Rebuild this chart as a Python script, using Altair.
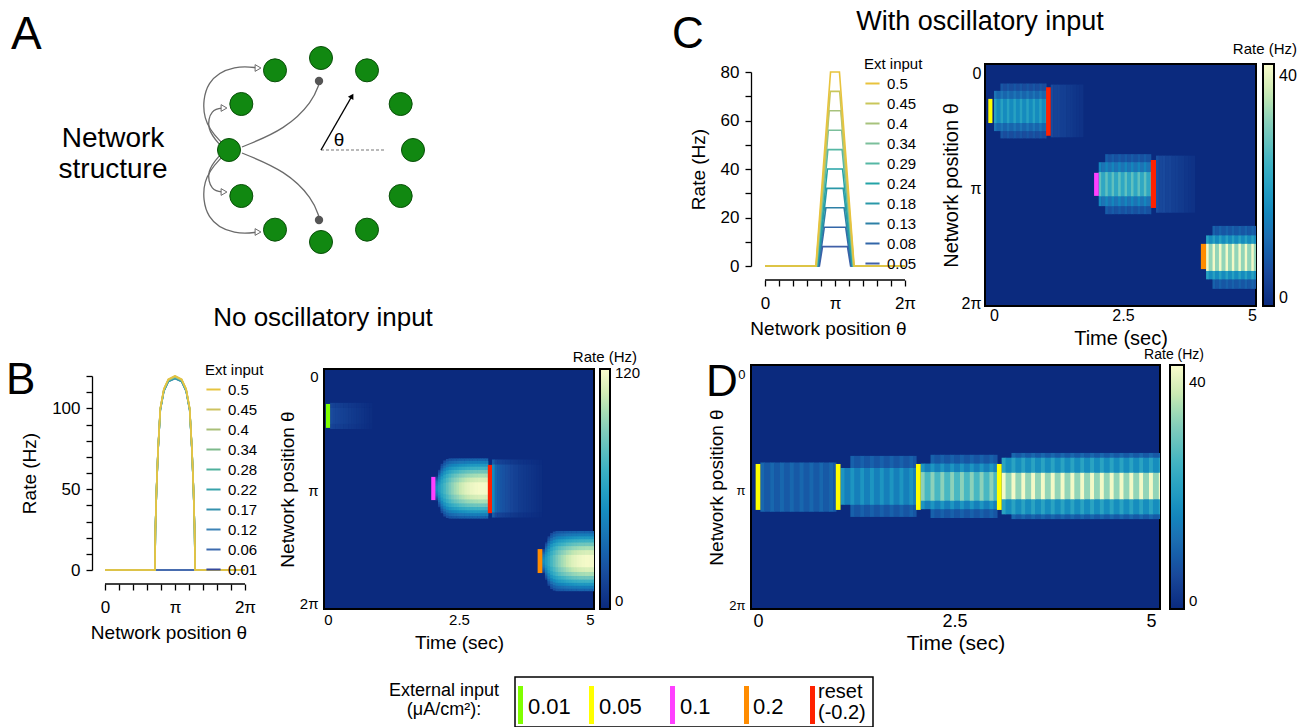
import math
import pandas as pd
import altair as alt

PI = math.pi
FONT = "Liberation Sans"
NAVY = "#0b2a7e"

# ---------------- colour map of the heat maps ----------------
CMAP_FRACS = [0.0, 0.15, 0.30, 0.45, 0.60, 0.75, 0.88, 1.0]
CMAP_COLORS = ["#0b2a7e", "#1a4b9d", "#1e72b4", "#1f97c1", "#42b4c3", "#84cdbb", "#cae9b3", "#fbfdcd"]

# ---------------- panel B, rate profiles ----------------
B_INPUTS = ["0.5", "0.45", "0.4", "0.34", "0.28", "0.22", "0.17", "0.12", "0.06", "0.01"]
B_COLORS = ["#e6c440", "#cdc260", "#a9bf78", "#7db98b", "#4fb09c", "#38a2aa", "#3591ad", "#3d83b6", "#3c6aae", "#35489b"]
B_PEAKS = [120, 120, 119.5, 119.5, 119, 119, 118.5, 118.5, 0, 0]
B_BUMP_OFFSETS = [0.90, 0.88, 0.83, 0.76, 0.66, 0.50, 0.30, 0.0]
B_BUMP_RATES = [0, 25, 50, 75, 100, 112, 118, 120]

# ---------------- panel C, rate profiles ----------------
C_INPUTS = ["0.5", "0.45", "0.4", "0.34", "0.29", "0.24", "0.18", "0.13", "0.08", "0.05"]
C_COLORS = ["#e8c33d", "#c9c65a", "#a7c27c", "#7bbf9b", "#55b7a4", "#23a3a6", "#2a98a8", "#2d80a6", "#3266a8", "#4060a8"]
C_PLATEAU = [80, 72, 64, 56, 48, 40, 32, 24, 16, 8]
C_SHOULDER = [0.20, 0.21, 0.26, 0.30, 0.32, 0.34, 0.37, 0.41, 0.48, 0.56]
C_FOOT = [0.86, 0.85, 0.84, 0.83, 0.82, 0.80, 0.78, 0.76, 0.73, 0.70]

# ---------------- panel B heat map (smooth bumps) ----------------
B_PROFILES = {
    "bump": ([0.83, 0.76, 0.68, 0.60, 0.51, 0.41, 0.30, 0.17], [0.25, 0.35, 0.47, 0.60, 0.72, 0.84, 0.93, 1.0]),
    "fade": ([0.80, 0.66], [0.55, 1.0]),
    "flat": ([0.36, 0.22], [0.80, 1.0]),
}
B_RAMP_PEAKS = [50, 58, 66, 74, 81, 88, 94, 99, 103, 107, 110, 113, 115, 117, 118, 119, 120, 120, 120, 120]
B_RAMP_WIDTHS = [0.40, 0.62, 0.82, 0.93, 0.98, 1, 1, 1, 1, 1, 1, 1, 1, 1, 1, 1, 1, 1, 1, 1]
B_FADE_PEAKS = [48, 30, 26, 23, 21, 19, 17, 15, 13, 12, 10, 9, 8, 7, 6, 5, 4, 3, 2]
B_WEAK_PEAKS = [18, 16, 15, 14, 13, 12, 11, 10, 9, 8, 7, 6, 5, 4, 3, 2]
# start time, column step, centre, peaks, width factors, profile
B_BLOBS = [
    (0.04, 0.05, 1.10, B_WEAK_PEAKS, [1] * len(B_WEAK_PEAKS), "flat"),
    (2.05, 0.05, 3.10, B_RAMP_PEAKS, B_RAMP_WIDTHS, "bump"),
    (3.13, 0.05, 3.10, B_FADE_PEAKS, [1] * len(B_FADE_PEAKS), "fade"),
    (4.09, 0.05, 5.10, B_RAMP_PEAKS, B_RAMP_WIDTHS, "bump"),
]
B_MARK_T0 = [-0.04, 1.97, 3.05, 4.00]
B_MARK_T1 = [0.04, 2.05, 3.13, 4.09]
B_MARK_TH0 = [0.77, 2.78, 2.45, 4.77]
B_MARK_TH1 = [1.43, 3.42, 3.78, 5.43]
B_MARK_COL = ["#80ff00", "#ff40ff", "#ff2200", "#ff8c00"]

# ---------------- panels C and D heat maps (oscillatory) ----------------
OSC_CYCLE = 0.125
OSC_FRACS = [0.0, 0.4]
OSC_GAINS = [1.0, 0.8]
# start, end, centre, band half widths (outer->inner), band rates, outer bands missing in 1st cycle
C_SEGMENTS = [
    (0.00, 1.01, 1.01, [0.75, 0.55, 0.33], [8, 13, 21], 1),
    (2.03, 3.04, 3.01, [0.82, 0.60, 0.33], [9, 16, 28], 1),
    (4.11, 5.10, 5.01, [0.86, 0.60, 0.37], [10, 21, 41], 1),
]
C_FADES = [
    (1.10, 1.01, 0.72, [6, 5, 4, 3, 2]),
    (3.14, 3.01, 0.78, [7, 6, 5, 4, 3, 2]),
]
C_MARK_T0 = [-0.11, 1.01, 1.94, 3.04, 4.01]
C_MARK_T1 = [-0.03, 1.10, 2.03, 3.14, 4.11]
C_MARK_TH0 = [0.68, 0.36, 2.70, 2.35, 4.64]
C_MARK_TH1 = [1.34, 1.69, 3.33, 3.66, 5.33]
C_MARK_COL = ["#ffff00", "#ff2200", "#ff40ff", "#ff2200", "#ff8c00"]

D_SEGMENTS = [
    (0.03, 0.99, 3.05, [0.67], [11], 0),
    (1.05, 2.01, 3.03, [0.83, 0.50], [10, 19], 1),
    (2.07, 3.04, 3.03, [0.86, 0.62, 0.39], [10, 19, 33], 1),
    (3.10, 5.12, 3.02, [0.90, 0.77, 0.36], [11, 22, 42], 1),
]
D_MARK_T0 = [-0.03, 0.99, 2.01, 3.04]
D_MARK_T1 = [0.03, 1.05, 2.07, 3.10]
D_MARK_TH0 = [2.42, 2.42, 2.42, 2.42]
D_MARK_TH1 = [3.67, 3.67, 3.67, 3.67]
D_MARK_COL = ["#ffff00", "#ffff00", "#ffff00", "#ffff00"]

# ---------------- panel A diagram ----------------
RING_CX, RING_CY, RING_R = 320, 149, 92
NODE_ANGLES = [0, 30, 60, 90, 120, 150, 180, 210, 240, 270, 300, 330]
DOT_X = [318, 318]
DOT_Y = [80, 219]
CURVES = {
    "p1": [(222, 143), (200, 120), (204, 78), (235, 64), (257, 67)],
    "p2": [(220, 145), (205, 128), (210, 108), (223, 107)],
    "p3": [(220, 153), (205, 170), (210, 190), (223, 191)],
    "p4": [(222, 155), (200, 178), (204, 220), (235, 234), (257, 231)],
    "p5": [(241, 146), (285, 128), (312, 100), (318, 83)],
    "p6": [(241, 152), (285, 170), (312, 198), (318, 216)],
}
HEAD_X = [257, 223, 223, 257]
HEAD_Y = [67, 107, 191, 231]
THETA_ARROW = [(320, 149), (351, 95)]
THETA_DASH = [(320, 149), (385, 149)]

# ---------------- figure texts ----------------
TXT_L = ["A", "B", "C", "D", "0.01", "0.05", "0.1", "0.2", "reset", "(-0.2)"]
TXT_L_X = [10, 5, 671, 705, 527, 598, 679, 752, 817, 817]
TXT_L_Y = [48, 393, 47, 395, 713, 713, 713, 713, 697, 718]
TXT_L_FS = [46, 44, 44, 44, 22, 22, 22, 22, 20, 20]
TXT_C = ["Network", "structure", "No oscillatory input", "With oscillatory input", "θ", "External input", "(μA/cm²):"]
TXT_C_X = [112, 112, 322, 979, 338, 443, 443]
TXT_C_Y = [146, 177, 325, 29, 145, 695, 714]
TXT_C_FS = [28, 28, 26, 27, 19, 18, 18]
TXT_R = ["Rate (Hz)", "Rate (Hz)", "Rate (Hz)"]
TXT_R_X = [636, 1296, 1203]
TXT_R_Y = [361, 53, 358]
TXT_R_FS = [15, 15, 14]

# bottom legend
LEG_BOX = (514, 872, 676, 726)
LEG_BAR_X = [517, 588, 669, 743, 809]
LEG_BAR_COL = ["#80ff00", "#ffff00", "#ff40ff", "#ff8c00", "#ff2200"]
LEG_BAR_Y = (685, 723)

THETA_EXPR = ("abs(datum.value) < 0.01 ? '0' : abs(datum.value - PI) < 0.01 ? 'π' : "
              "abs(datum.value - 2*PI) < 0.01 ? '2π' : ''")
TIME_EXPR = "datum.value == 0 ? '0' : datum.value == 5 ? '5' : '2.5'"


# ================= builders =================
def b_line_df():
    rows = []
    for k in range(len(B_INPUTS) - 1, -1, -1):
        peak = B_PEAKS[k]
        pts = [(0.0, 0.0)]
        for o, r in zip(B_BUMP_OFFSETS, B_BUMP_RATES):
            pts.append((PI - o, r * peak / 120.0))
        for o, r in zip(reversed(B_BUMP_OFFSETS[:-1]), reversed(B_BUMP_RATES[:-1])):
            pts.append((PI + o, r * peak / 120.0))
        pts.append((2 * PI, 0.0))
        for th, r in pts:
            rows.append({"inp": B_INPUTS[k], "theta": th, "rate": r})
    return pd.DataFrame(rows)


def c_line_df():
    rows = []
    for k in range(len(C_INPUTS) - 1, -1, -1):
        L, s, f = C_PLATEAU[k], C_SHOULDER[k], C_FOOT[k]
        pts = [(0.0, 0), (PI - f, 0), (PI - s, L), (PI + s, L), (PI + f, 0), (2 * PI, 0)]
        for th, r in pts:
            rows.append({"inp": C_INPUTS[k], "theta": th, "rate": r})
    return pd.DataFrame(rows)


EPS = 0.008


def smooth_bands(blobs):
    rows = []
    for ts, dt, c, peaks, widths, prof in blobs:
        halves, rels = B_PROFILES[prof]
        for k, (p, w) in enumerate(zip(peaks, widths)):
            a = ts + k * dt
            for lvl, (h, r) in enumerate(zip(halves, rels)):
                rows.append({"t0": a, "t1": a + dt + EPS, "th0": c - h * w, "th1": c + h * w,
                             "rate": p * r, "lvl": lvl})
    return pd.DataFrame(rows).sort_values(["lvl", "t0"]).reset_index(drop=True)


def osc_bands(segments, fades):
    rows = []

    def cycle_cols(cs, te):
        out = []
        for j, (f, g) in enumerate(zip(OSC_FRACS, OSC_GAINS)):
            a = cs + f * OSC_CYCLE
            b = cs + (OSC_FRACS[j + 1] if j + 1 < len(OSC_FRACS) else 1.0) * OSC_CYCLE
            b = min(b, te)
            if a < te:
                out.append((a, b, g))
        return out

    for ts, te, c, halves, rates, skip in segments:
        n = int(math.ceil((te - ts) / OSC_CYCLE - 1e-9))
        for k in range(n):
            for a, b, g in cycle_cols(ts + k * OSC_CYCLE, te):
                for lvl, (h, r) in enumerate(zip(halves, rates)):
                    if k == 0 and lvl < skip:
                        continue
                    rows.append({"t0": a, "t1": b + EPS, "th0": c - h, "th1": c + h,
                                 "rate": r * g, "lvl": lvl})
    for ts, c, h, rates in fades:
        for k, r in enumerate(rates):
            cs = ts + k * OSC_CYCLE
            for a, b, g in cycle_cols(cs, cs + OSC_CYCLE):
                rows.append({"t0": a, "t1": b + EPS, "th0": c - h, "th1": c + h,
                             "rate": r * g, "lvl": 0})
    return pd.DataFrame(rows).sort_values(["lvl", "t0"]).reset_index(drop=True)


def marks_df(t0, t1, th0, th1, col):
    return pd.DataFrame({"t0": t0, "t1": t1, "th0": th0, "th1": th1, "col": col})


def heat_chart(bands, marks, W, H, xdom, ydom, cmax, cvals, st):
    xs = alt.Scale(domain=xdom, nice=False, zero=False)
    ys = alt.Scale(domain=ydom, nice=False, zero=False, reverse=True)
    xax = alt.Axis(values=[0, 2.5, 5], labelExpr=TIME_EXPR, ticks=False, domain=False, grid=False,
                   labelFontSize=st["xl"], labelPadding=st["xlp"], labelFlush=False, labelOverlap=False,
                   title="Time (sec)", titleFontSize=st["xt"], titlePadding=st["xtp"])
    yax = alt.Axis(values=[0, PI, 2 * PI], labelExpr=THETA_EXPR, ticks=False, domain=False, grid=False,
                   labelFontSize=st["yl"], labelPadding=st["ylp"], labelFlush=False, labelOverlap=False,
                   title="Network position θ", titleFontSize=st["yt"], titlePadding=st["ytp"])
    leg = alt.Legend(orient="none", legendX=W + st["lx"], legendY=0, direction="vertical", title=None,
                     gradientLength=H, gradientThickness=st["gt"], gradientStrokeColor="black",
                     gradientStrokeWidth=2, values=cvals, labelFontSize=st["cl"], labelOverlap=False,
                     labelOffset=5, padding=0)
    cscale = alt.Scale(domain=[f * cmax for f in CMAP_FRACS], range=CMAP_COLORS, clamp=True)
    band_layer = alt.Chart(bands).mark_rect(clip=True).encode(
        x=alt.X("t0:Q", scale=xs, axis=xax), x2="t1:Q",
        y=alt.Y("th0:Q", scale=ys, axis=yax), y2="th1:Q",
        color=alt.Color("rate:Q", scale=cscale, legend=leg),
    )
    mark_layer = alt.Chart(marks).mark_rect(clip=True).encode(
        x=alt.X("t0:Q", scale=xs, axis=xax), x2="t1:Q",
        y=alt.Y("th0:Q", scale=ys, axis=yax), y2="th1:Q",
        fill=alt.Fill("col:N", scale=None),
    )
    return alt.layer(band_layer, mark_layer).properties(
        width=W, height=H, view=alt.ViewBackground(fill=NAVY, stroke="black", strokeWidth=2))


def line_chart(df, inputs, colors, W, H, xdom, ymax, ystep, yevery, lx, ly):
    xs = alt.Scale(domain=xdom, nice=False, zero=False)
    ys = alt.Scale(domain=[0, ymax], nice=False, zero=False)
    xax = alt.Axis(values=[k * PI / 5 for k in range(11)], labelExpr=THETA_EXPR, domain=False, offset=14,
                   tickSize=6, tickWidth=1.3, labelFontSize=17, labelPadding=9, labelFlush=False,
                   labelOverlap=False, title="Network position θ", titleFontSize=19, titlePadding=8, grid=False)
    yax = alt.Axis(values=list(range(0, ymax + 1, ystep)),
                   labelExpr=f"datum.value % {yevery} == 0 ? datum.label : ''",
                   domainWidth=1.3, tickSize=6, tickWidth=1.3, labelFontSize=17, labelPadding=6,
                   labelOverlap=False, labelFlush=False, title="Rate (Hz)", titleFontSize=19,
                   titlePadding=12, grid=False)
    leg = alt.Legend(orient="none", legendX=lx, legendY=ly, direction="vertical", title="Ext input",
                     titleFontSize=15, titleFontWeight="normal", titlePadding=3, labelFontSize=15,
                     symbolType="stroke", symbolStrokeWidth=2, symbolSize=200, rowPadding=3,
                     labelOffset=6, padding=0)
    lines = alt.Chart(df).mark_line(strokeWidth=1.6).encode(
        x=alt.X("theta:Q", scale=xs, axis=xax),
        y=alt.Y("rate:Q", scale=ys, axis=yax),
        color=alt.Color("inp:N", scale=alt.Scale(domain=inputs, range=colors), legend=leg),
    )
    rule = alt.Chart(pd.DataFrame({"theta": [0.0], "theta2": [2 * PI]})).mark_rule(
        color="black", strokeWidth=1.3).encode(
        x=alt.X("theta:Q", scale=xs, axis=xax), x2="theta2:Q", y=alt.value(H + 14))
    return alt.layer(lines, rule).properties(width=W, height=H)


# ================= canvas with diagram, letters, titles, bottom legend =================
CANVAS_W, CANVAS_H = 271, 313
cx = alt.Scale(domain=[0, CANVAS_W], range=[0, CANVAS_W], nice=False, zero=False)
cy = alt.Scale(domain=[0, CANVAS_H], range=[0, CANVAS_H], nice=False, zero=False)


def cpos(xf="x", yf="y"):
    return dict(x=alt.X(f"{xf}:Q", scale=cx, axis=None), y=alt.Y(f"{yf}:Q", scale=cy, axis=None))


nodes = pd.DataFrame({
    "x": [RING_CX + RING_R * math.cos(math.radians(a)) for a in NODE_ANGLES],
    "y": [RING_CY - RING_R * math.sin(math.radians(a)) for a in NODE_ANGLES],
})
curve_rows = []
for pid, pts in CURVES.items():
    for i, (x, y) in enumerate(pts):
        curve_rows.append({"pid": pid, "seq": i, "x": x, "y": y})
curves = pd.DataFrame(curve_rows)

layers = []
layers.append(alt.Chart(curves).mark_line(interpolate="basis", color="#6a6a6a", strokeWidth=1.3).encode(
    detail="pid:N", order="seq:Q", **cpos()))
layers.append(alt.Chart(pd.DataFrame({"x": HEAD_X, "y": HEAD_Y})).mark_point(
    shape="triangle-right", filled=True, fill="white", stroke="#6a6a6a", strokeWidth=1, size=45, opacity=1
).encode(**cpos()))
layers.append(alt.Chart(nodes).mark_circle(size=530, color="#118811", stroke="#0a4f0a", strokeWidth=1,
                                           opacity=1).encode(**cpos()))
layers.append(alt.Chart(pd.DataFrame({"x": DOT_X, "y": DOT_Y})).mark_circle(
    size=70, color="#555555", opacity=1).encode(**cpos()))
layers.append(alt.Chart(pd.DataFrame({"x": [p[0] for p in THETA_DASH], "y": [p[1] for p in THETA_DASH]}))
              .mark_line(color="#777777", strokeWidth=1.2, strokeDash=[3, 2]).encode(**cpos()))
layers.append(alt.Chart(pd.DataFrame({"x": [p[0] for p in THETA_ARROW], "y": [p[1] for p in THETA_ARROW],
                                      "s": [0, 1]}))
              .mark_line(color="black", strokeWidth=1.4).encode(order="s:Q", **cpos()))
layers.append(alt.Chart(pd.DataFrame({"x": [THETA_ARROW[1][0]], "y": [THETA_ARROW[1][1]]})).mark_point(
    shape="triangle-up", filled=True, color="black", size=40, angle=30, opacity=1).encode(**cpos()))
# bottom legend
layers.append(alt.Chart(pd.DataFrame({"x": [LEG_BOX[0]], "x2": [LEG_BOX[1]], "y": [LEG_BOX[2]],
                                      "y2": [LEG_BOX[3]]}))
              .mark_rect(fillOpacity=0, stroke="black", strokeWidth=1.5).encode(
    x2="x2:Q", y2="y2:Q", **cpos()))
layers.append(alt.Chart(pd.DataFrame({"x": LEG_BAR_X, "x2": [v + 5 for v in LEG_BAR_X],
                                      "y": [LEG_BAR_Y[0]] * 5, "y2": [LEG_BAR_Y[1]] * 5,
                                      "col": LEG_BAR_COL}))
              .mark_rect().encode(x2="x2:Q", y2="y2:Q", fill=alt.Fill("col:N", scale=None), **cpos()))
for labels, xs_, ys_, fss, al in [(TXT_L, TXT_L_X, TXT_L_Y, TXT_L_FS, "left"),
                                   (TXT_C, TXT_C_X, TXT_C_Y, TXT_C_FS, "center"),
                                   (TXT_R, TXT_R_X, TXT_R_Y, TXT_R_FS, "right")]:
    layers.append(alt.Chart(pd.DataFrame({"x": xs_, "y": ys_, "t": labels, "fs": fss})).mark_text(
        align=al, baseline="alphabetic", color="black").encode(
        text="t:N", size=alt.Size("fs:Q", scale=None), **cpos()))
canvas = alt.layer(*layers).properties(width=CANVAS_W, height=CANVAS_H)

# ================= panels =================
b_line = line_chart(b_line_df(), B_INPUTS, B_COLORS, 153, 194, [-0.5835, 2 * PI], 120, 10, 50, 113, -13)
c_line = line_chart(c_line_df(), C_INPUTS, C_COLORS, 154, 194, [-0.628, 2 * PI], 80, 10, 20, 113, -15)

b_heat = heat_chart(smooth_bands(B_BLOBS), marks_df(B_MARK_T0, B_MARK_T1, B_MARK_TH0, B_MARK_TH1, B_MARK_COL),
                    270, 240, [-0.076, 5.076], [-0.193, 6.421], 122, [0, 120],
                    dict(xl=15, xlp=3, xt=19, xtp=6, yl=15, ylp=6, yt=19, ytp=2, lx=6, gt=10, cl=15))
c_heat = heat_chart(osc_bands(C_SEGMENTS, C_FADES),
                    marks_df(C_MARK_T0, C_MARK_T1, C_MARK_TH0, C_MARK_TH1, C_MARK_COL),
                    271, 242, [-0.174, 5.078], [-0.273, 6.338], 42, [0, 40],
                    dict(xl=16, xlp=1, xt=20, xtp=5, yl=16, ylp=4, yt=20, ytp=0, lx=7, gt=11, cl=16))
d_heat = heat_chart(osc_bands(D_SEGMENTS, []),
                    marks_df(D_MARK_T0, D_MARK_T1, D_MARK_TH0, D_MARK_TH1, D_MARK_COL),
                    409, 244, [-0.089, 5.115], [-0.272, 6.365], 43, [0, 40],
                    dict(xl=18, xlp=3, xt=21, xtp=2, yl=13, ylp=6, yt=19, ytp=2, lx=10, gt=14, cl=15))

SP_DF = pd.DataFrame({"s": [0]})


def spacer(w, h):
    return alt.Chart(SP_DF).mark_point(opacity=0, size=1).encode(
        x=alt.value(0), y=alt.value(0)).properties(width=w, height=h)


# grid with negative spacing and flush bounds: each cell is (column width x row height)
COL_SPACING, ROW_SPACING = -180, -250
COL_W = [271, 412, 607, 414, 271]
ROW_H = [313, 258, 543, 254, 257, 194]
PLACED = {(0, 0): canvas, (1, 4): c_heat, (2, 3): c_line, (3, 3): d_heat, (4, 2): b_heat, (5, 1): b_line}
items = []
for r in range(len(ROW_H)):
    for c in range(len(COL_W)):
        if r == len(ROW_H) - 1 and c > 1:
            break
        items.append(PLACED.get((r, c), spacer(COL_W[c], ROW_H[r])))

chart = alt.concat(*items, columns=5, spacing={"row": ROW_SPACING, "column": COL_SPACING},
                   bounds="flush", align="none")
chart = chart.resolve_scale(color="independent", fill="independent", size="independent")
chart = chart.properties(padding=0, background="white").configure(font=FONT).configure_view(
    strokeWidth=0).configure_axis(
    labelFont=FONT, titleFont=FONT, labelColor="black", titleColor="black", titleFontWeight="normal",
    domainColor="black", tickColor="black").configure_legend(
    labelFont=FONT, titleFont=FONT, labelColor="black", titleColor="black")

chart.save("out.html", embed_options={"renderer": "svg", "actions": False})
